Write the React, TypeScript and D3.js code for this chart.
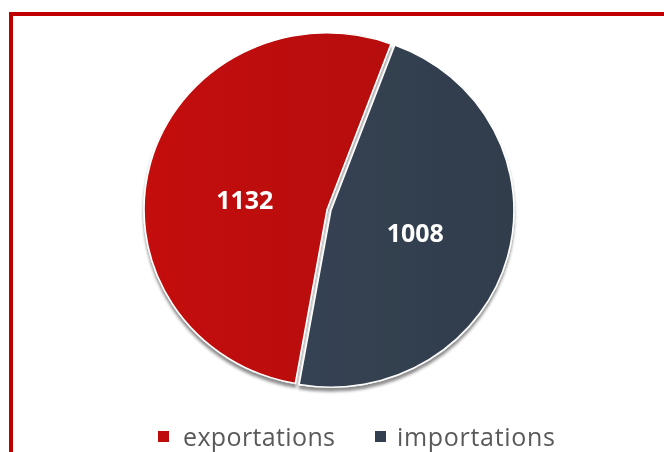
import * as d3 from 'd3';
import React from 'react';

const categories = ['exportations', 'importations'];
const values = [1132, 1008];
const colors = ['#BE0C0C', '#333F50'];

const W = 664, H = 452;
const cx = 329, cy = 210;
const radius = 183;

const App = () => {
    const pie = d3.pie<number>()
        .sort(null)
        .startAngle((190 * Math.PI) / 180)
        .endAngle((550 * Math.PI) / 180);
    const arcs = pie(values);

    const arc = d3.arc<d3.PieArcDatum<number>>()
        .innerRadius(0)
        .outerRadius(radius);

    const explode = 2;
    // excel puts the labels a bit off the plain centroid
    const labelNudge = [[4, 14], [-2, -1]];

    return <svg width={W} height={H} style={{ position: 'fixed', left: 0, top: 0 }}
        fontFamily="'Open Sans', sans-serif">
        <defs>
            <filter id="shadow" x="-10%" y="-10%" width="120%" height="125%">
                <feDropShadow dx="0" dy="4" stdDeviation="1.6" floodColor="#000" floodOpacity="0.45" />
            </filter>
            <linearGradient id="g0" x1="0" x2="1" y1="0" y2="0">
                <stop offset="0" stopColor="#C41111" />
                <stop offset="1" stopColor="#B60707" />
            </linearGradient>
            <linearGradient id="g1" x1="0" x2="1" y1="0" y2="0">
                <stop offset="0" stopColor="#364253" />
                <stop offset="1" stopColor="#303C4C" />
            </linearGradient>
        </defs>
        <rect x={11} y={14} width={700} height={500} fill="none" stroke="#C00000" strokeWidth={4} />
        <g transform={`translate(${cx},${cy}) scale(1,0.965)`}>
            {arcs.map((a, i) => {
                const mid = (a.startAngle + a.endAngle) / 2;
                const dx = explode * Math.sin(mid), dy = -explode * Math.cos(mid);
                return <g key={categories[i]} transform={`translate(${dx},${dy})`}>
                    <path d={arc(a) as string} fill={`url(#g${i})`} stroke="#fff" strokeWidth={1.5}
                        strokeLinejoin="round" filter="url(#shadow)" />
                </g>;
            })}
        </g>
        <g transform={`translate(${cx},${cy})`}>
            {arcs.map((a, i) => {
                const [lx, ly] = arc.centroid(a);
                return <text key={categories[i]} x={lx + labelNudge[i][0]} y={ly + labelNudge[i][1]}
                    dy="0.36em" textAnchor="middle"
                    fill="#fff" fontWeight="bold" fontSize={25}>{values[i]}</text>;
            })}
        </g>
        <g>
            <rect x={158} y={431} width={11} height={11} fill={colors[0]} />
            <text x={183} y={446} fontSize={25} fill="#595959" textLength={152} lengthAdjust="spacing">{categories[0]}</text>
            <rect x={375} y={431} width={11} height={11} fill={colors[1]} />
            <text x={397} y={446} fontSize={25} fill="#595959" textLength={158} lengthAdjust="spacing">{categories[1]}</text>
        </g>
    </svg>;
}
export default App;
